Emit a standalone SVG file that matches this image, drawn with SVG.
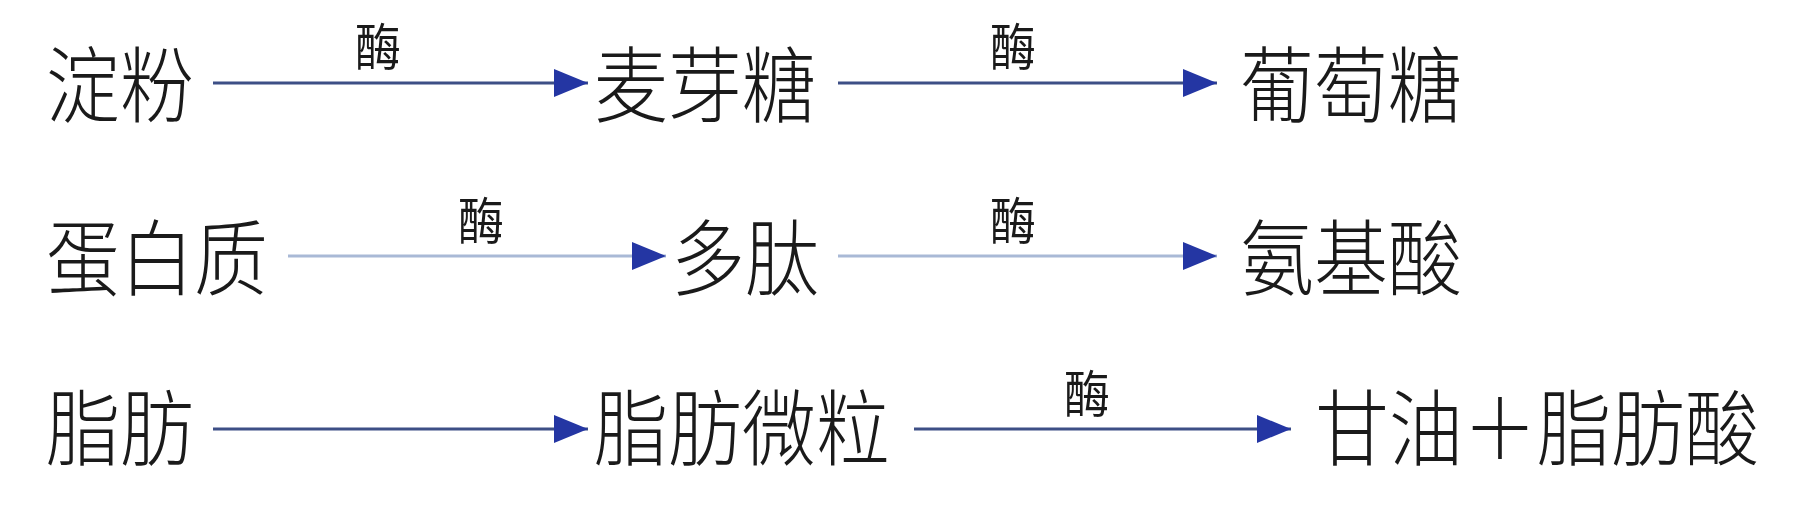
<svg xmlns="http://www.w3.org/2000/svg" width="1808" height="510" viewBox="0 0 1808 510">
<style>
.t{font-family:"Noto Sans CJK SC","Noto Sans CJK JP",sans-serif;font-size:74px;fill:#1a1a1a;font-weight:300}
.e{font-family:"Noto Sans CJK SC","Noto Sans CJK JP",sans-serif;font-size:46px;fill:#1a1a1a;text-anchor:middle}
.c{stroke:#3d4f86;stroke-width:3;fill:none;marker-end:url(#ah)}
.c2{stroke:#a9b9d6;stroke-width:3;fill:none;marker-end:url(#ah)}
</style>
<defs>
<marker id="ah" markerUnits="userSpaceOnUse" markerWidth="36" markerHeight="28" refX="34" refY="14" orient="auto">
<path d="M0,0 L34,14 L0,28 Z" fill="#2436a3"/>
</marker>
</defs>
<rect width="1808" height="510" fill="#ffffff"/>
<g id="connectors">
<line class="c" x1="213" y1="83" x2="588" y2="83"/>
<line class="c" x1="838" y1="83" x2="1217" y2="83"/>
<line class="c2" x1="288" y1="256" x2="666" y2="256"/>
<line class="c2" x1="838" y1="256" x2="1217" y2="256"/>
<line class="c" x1="213" y1="429" x2="588" y2="429"/>
<line class="c" x1="914" y1="429" x2="1291" y2="429"/>
<text class="e" transform="translate(378,66) scale(1,1.1)">酶</text>
<text class="e" transform="translate(1013,66) scale(1,1.1)">酶</text>
<text class="e" transform="translate(481,240) scale(1,1.1)">酶</text>
<text class="e" transform="translate(1013,240) scale(1,1.1)">酶</text>
<text class="e" transform="translate(1087,413) scale(1,1.1)">酶</text>
</g>
<g id="n-dianfen" transform="translate(46,116) scale(1,1.12)"><text class="t">淀粉</text></g>
<g id="n-maiyatang" transform="translate(594,116) scale(1,1.12)"><text class="t">麦芽糖</text></g>
<g id="n-putaotang" transform="translate(1240,116) scale(1,1.12)"><text class="t">葡萄糖</text></g>
<g id="n-danbaizhi" transform="translate(46,289) scale(1,1.12)"><text class="t">蛋白质</text></g>
<g id="n-duotai" transform="translate(671,289) scale(1,1.12)"><text class="t">多肽</text></g>
<g id="n-anjisuan" transform="translate(1240,289) scale(1,1.12)"><text class="t">氨基酸</text></g>
<g id="n-zhifang" transform="translate(46,459) scale(1,1.12)"><text class="t">脂肪</text></g>
<g id="n-zhifangweili" transform="translate(594,459) scale(1,1.12)"><text class="t">脂肪微粒</text></g>
<g id="n-ganyou" transform="translate(1315,459) scale(1,1.12)"><text class="t">甘油＋脂肪酸</text></g>
</svg>
